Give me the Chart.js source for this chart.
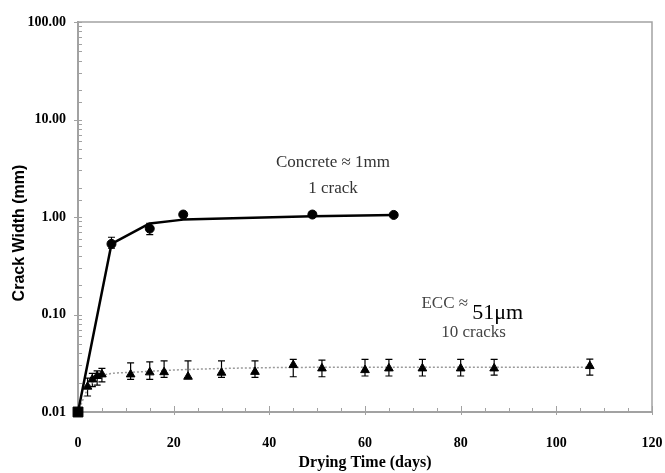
<!DOCTYPE html>
<html>
<head>
<meta charset="utf-8">
<script src="https://cdn.jsdelivr.net/npm/chart.js@4.4.1/dist/chart.umd.min.js"></script>
<style>
  html, body { margin: 0; padding: 0; background: #fff; }
  #wrap { width: 665px; height: 473px; position: relative; }
</style>
</head>
<body>
<div id="wrap"><canvas id="crack-chart"></canvas></div>
<script>
// Crack width vs drying time, concrete vs ECC (log y axis)

// Concrete: measured points, error bars and fitted trend
const concreteDays = [0, 7, 15, 22, 49, 66];
const concreteWidth = [0.01, 0.53, 0.76, 1.06, 1.06, 1.05];
const concreteHigh = [null, 0.62, 0.86, null, null, null];
const concreteLow = [null, 0.48, 0.66, null, null, null];
const concreteTrendDays = [0, 7, 15, 22, 49, 66];
const concreteTrend = [0.01, 0.53, 0.86, 0.94, 1.02, 1.05];

// ECC: measured points, error bars and fitted trend
const eccDays = [0, 2, 3, 4, 5, 11, 15, 18, 23, 30, 37, 45, 51, 60, 65, 72, 80, 87, 107];
const eccWidth = [0.01, 0.0182, 0.0216, 0.0234, 0.0243, 0.0243, 0.0255, 0.0256, 0.0230, 0.0253,
  0.0258, 0.0303, 0.0280, 0.0269, 0.0280, 0.0280, 0.0280, 0.0280, 0.0296];
const eccHigh = [null, 0.0223, 0.0249, 0.0264, 0.0280, 0.0319, 0.0327, 0.0335, 0.0335, 0.0335,
  0.0335, 0.0346, 0.0340, 0.0346, 0.0346, 0.0346, 0.0346, 0.0346, 0.0348];
const eccLow = [null, 0.0146, 0.0182, 0.0189, 0.0204, 0.0216, 0.0216, 0.0226, 0.0225, 0.0226,
  0.0226, 0.0230, 0.0230, 0.0234, 0.0234, 0.0234, 0.0234, 0.0239, 0.0239];
const eccTrendDays = [0, 2, 5, 11, 23, 50, 107];
const eccTrend = [0.01, 0.017, 0.0235, 0.0255, 0.0273, 0.0287, 0.0287];

// Axis ticks
const xTickStep = 5;
const xLabelStep = 20;
const yDecades = [0.01, 0.1, 1, 10, 100];
const yTitle = 'Crack Width (mm)';

const toPoints = (xs, ys) => xs.map((x, i) => ({ x: x, y: ys[i] }));

const AXIS_GREY = '#a2a2a2';
const SERIF = '"Liberation Serif", "Times New Roman", serif';
const SANS = '"Liberation Sans", Arial, sans-serif';

// Text notes, anchored in data units
const notes = [
  { text: 'Concrete \u2248 1mm', day: 53.3, value: 3.6, size: 17, color: '#333', align: 'center' },
  { text: '1 crack', day: 53.3, value: 1.95, size: 17, color: '#333', align: 'center' },
  { text: 'ECC \u2248', day: 71.8, value: 0.13, size: 17, color: '#444', align: 'left' },
  { text: '51\u03bcm', day: 82.4, value: 0.103, size: 22, color: '#000', align: 'left' },
  { text: '10 cracks', day: 82.7, value: 0.066, size: 17, color: '#444', align: 'center' }
];

const isDecade = (v) => Math.abs(Math.log10(v) - Math.round(Math.log10(v))) < 1e-6;

const decorPlugin = {
  id: 'decor',
  beforeDatasetsDraw(chart) {
    const { ctx, chartArea: a, scales: { x, y } } = chart;
    ctx.save();

    // top and right frame
    ctx.strokeStyle = AXIS_GREY;
    ctx.lineWidth = 1.5;
    ctx.beginPath();
    ctx.moveTo(a.left, a.top);
    ctx.lineTo(a.right, a.top);
    ctx.lineTo(a.right, a.bottom);
    ctx.stroke();

    // x tick marks, pointing inside
    ctx.lineWidth = 1;
    x.ticks.forEach(t => {
      const px = Math.round(x.getPixelForValue(t.value)) + 0.5;
      const major = t.value % xLabelStep === 0;
      ctx.beginPath();
      ctx.moveTo(px, a.bottom + (major ? 3 : 0));
      ctx.lineTo(px, a.bottom - (major ? 6 : 4));
      ctx.stroke();
    });

    // y tick marks: minor inside, decades both sides
    y.ticks.forEach(t => {
      const py = Math.round(y.getPixelForValue(t.value)) + 0.5;
      const major = isDecade(t.value);
      ctx.beginPath();
      ctx.moveTo(a.left - (major ? 4 : 0), py);
      ctx.lineTo(a.left + 4, py);
      ctx.stroke();
    });

    // error bars
    ctx.strokeStyle = '#000';
    ctx.lineWidth = 1.2;
    const drawBars = (days, high, low) => {
      days.forEach((d, i) => {
        if (high[i] == null) return;
        const px = x.getPixelForValue(d);
        const top = y.getPixelForValue(high[i]);
        const bot = y.getPixelForValue(low[i]);
        ctx.beginPath();
        ctx.moveTo(px, top); ctx.lineTo(px, bot);
        ctx.moveTo(px - 3.5, top); ctx.lineTo(px + 3.5, top);
        ctx.moveTo(px - 3.5, bot); ctx.lineTo(px + 3.5, bot);
        ctx.stroke();
      });
    };
    drawBars(eccDays, eccHigh, eccLow);
    drawBars(concreteDays, concreteHigh, concreteLow);

    ctx.restore();
  },
  afterDraw(chart) {
    const { ctx, chartArea: a, scales: { x, y } } = chart;
    ctx.save();
    ctx.textBaseline = 'middle';
    notes.forEach(n => {
      ctx.font = n.size + 'px ' + SERIF;
      ctx.fillStyle = n.color;
      ctx.textAlign = n.align;
      ctx.fillText(n.text, x.getPixelForValue(n.day), y.getPixelForValue(n.value));
    });

    // y axis title, sitting a little below the axis centre as in the source
    ctx.translate(20, (a.top + a.bottom) / 2 + 16);
    ctx.rotate(-Math.PI / 2);
    ctx.textAlign = 'center';
    ctx.fillStyle = '#000';
    ctx.font = 'bold 16px ' + SANS;
    ctx.fillText(yTitle, 0, 0);
    ctx.restore();
  }
};

const canvas = document.getElementById('crack-chart');
const ctx = canvas.getContext('2d');

new Chart(ctx, {
  type: 'scatter',
  data: {
    datasets: [
      {
        label: 'ECC trend',
        data: toPoints(eccTrendDays, eccTrend),
        showLine: true,
        borderColor: '#9a9a9a',
        borderWidth: 1.5,
        borderDash: [2, 2],
        pointRadius: 0,
        cubicInterpolationMode: 'monotone',
        clip: false,
        order: 4
      },
      {
        label: 'Concrete trend',
        data: toPoints(concreteTrendDays, concreteTrend),
        showLine: true,
        borderColor: '#000',
        borderWidth: 2.5,
        pointRadius: 0,
        tension: 0,
        borderJoinStyle: 'round',
        clip: false,
        order: 3
      },
      {
        label: 'ECC',
        data: toPoints(eccDays, eccWidth),
        pointStyle: 'triangle',
        pointRadius: 5,
        backgroundColor: '#000',
        borderColor: '#000',
        borderWidth: 1,
        clip: false,
        order: 2
      },
      {
        label: 'Concrete',
        data: toPoints(concreteDays, concreteWidth),
        pointStyle: concreteDays.map((d, i) => i === 0 ? 'rect' : 'circle'),
        pointRadius: concreteDays.map((d, i) => i === 0 ? 7 : 4.5),
        backgroundColor: '#000',
        borderColor: '#000',
        borderWidth: 1,
        clip: false,
        order: 1
      }
    ]
  },
  options: {
    responsive: true,
    maintainAspectRatio: false,
    animation: false,
    layout: { padding: { top: 22, right: 0, left: 0, bottom: 0 } },
    plugins: {
      legend: { display: false },
      tooltip: { enabled: false }
    },
    scales: {
      x: {
        type: 'linear',
        min: 0,
        max: 120,
        grid: { display: false, drawTicks: false },
        border: { display: true, color: AXIS_GREY, width: 2 },
        ticks: {
          stepSize: xTickStep,
          autoSkip: false,
          maxRotation: 0,
          padding: 23,
          color: '#000',
          font: { family: SERIF, size: 14, weight: 'bold' },
          callback: (v) => v % xLabelStep === 0 ? String(v) : ''
        },
        title: {
          display: true,
          text: 'Drying Time (days)',
          color: '#000',
          font: { family: SERIF, size: 16, weight: 'bold' },
          padding: { top: 0, bottom: 1 }
        },
        afterFit: (scale) => {
          scale.height = 61;
          scale.paddingLeft = 0;
          scale.paddingRight = 13;
        }
      },
      y: {
        type: 'logarithmic',
        min: 0.01,
        max: 100,
        grid: { display: false, drawTicks: false },
        border: { display: true, color: AXIS_GREY, width: 2 },
        ticks: {
          autoSkip: false,
          padding: 12,
          color: '#000',
          font: { family: SERIF, size: 14, weight: 'bold' },
          callback: (v) => yDecades.some(d => Math.abs(d - v) < d * 1e-6) ? Number(v).toFixed(2) : ''
        },
        title: { display: false },
        afterFit: (scale) => { scale.width = 78; }
      }
    }
  },
  plugins: [decorPlugin]
});
</script>
</body>
</html>
